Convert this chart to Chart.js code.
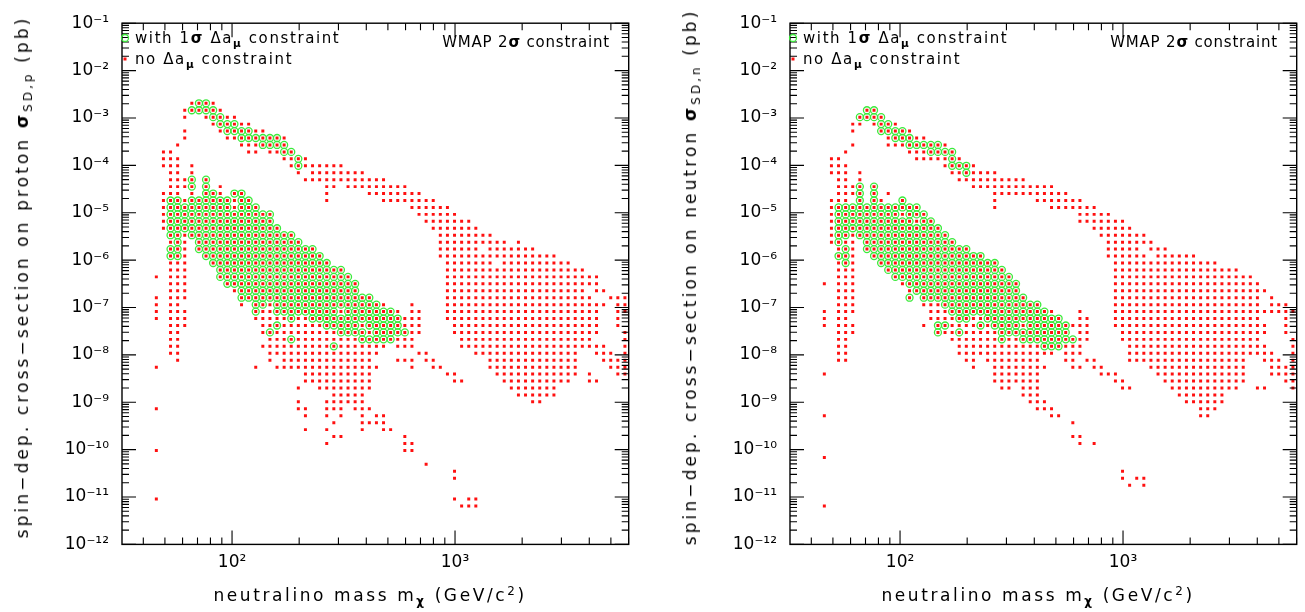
<!DOCTYPE html>
<html>
<head>
<meta charset="utf-8">
<script src="https://cdn.jsdelivr.net/npm/chart.js@4.4.1/dist/chart.umd.min.js"></script>
<style>
  html, body { margin: 0; padding: 0; background: #fff; }
  #page { position: relative; width: 1305px; height: 612px; overflow: hidden; font-family: "DejaVu Sans", sans-serif; color: #000; }
  .panel { position: absolute; top: 0; height: 612px; }
  .txt { position: absolute; white-space: nowrap; }
  .ctr { transform: translate(-50%, -50%); }
  .ytitle { transform: translate(-50%, -50%) rotate(-90deg); font-size: 17px; letter-spacing: 3.1px; }
  .xtitle { font-size: 17px; letter-spacing: 2.6px; }
  .leg { font-size: 15px; letter-spacing: 1.6px; transform: translateY(-50%); }
  .wmap { font-size: 15px; letter-spacing: 0.8px; transform: translate(-100%, -50%); }
  sub { font-size: 70%; vertical-align: -0.35em; line-height: 0; }
  sup { font-size: 70%; vertical-align: 0.5em; line-height: 0; }
  b { font-weight: bold; }
</style>
</head>
<body>
<div id="page">
  <div class="panel" style="left:0; width:652px;"><canvas id="left" width="652" height="612"></canvas></div>
  <div class="panel" style="left:668px; width:637px;"><canvas id="right" width="637" height="612"></canvas></div>

  <div class="txt ytitle" style="left:22px; top:277px;">spin−dep. cross−section on proton <b>σ</b><sub>SD,p</sub> (pb)</div>
  <div class="txt ytitle" style="left:690px; top:277px;">spin−dep. cross−section on neutron <b>σ</b><sub>SD,n</sub> (pb)</div>
  <div class="txt xtitle ctr" style="left:370px; top:595px;">neutralino mass m<sub><b>χ</b></sub> (GeV/c<sup>2</sup>)</div>
  <div class="txt xtitle ctr" style="left:1038px; top:595px;">neutralino mass m<sub><b>χ</b></sub> (GeV/c<sup>2</sup>)</div>

  <div class="txt leg" style="left:135px; top:38px;">with 1<b>σ</b> Δa<sub><b>μ</b></sub> constraint</div>
  <div class="txt leg" style="left:135px; top:59px;">no Δa<sub><b>μ</b></sub> constraint</div>
  <div class="txt wmap" style="left:610px; top:42px;">WMAP 2<b>σ</b> constraint</div>
  <div class="txt leg" style="left:803px; top:38px;">with 1<b>σ</b> Δa<sub><b>μ</b></sub> constraint</div>
  <div class="txt leg" style="left:803px; top:59px;">no Δa<sub><b>μ</b></sub> constraint</div>
  <div class="txt wmap" style="left:1278px; top:42px;">WMAP 2<b>σ</b> constraint</div>
</div>
<script>
// axis ranges and ticks
const X_MIN = 32.1, X_MAX = 6010;
const Y_MIN = 1e-12, Y_MAX = 1e-1;
const X_TICKS = [100, 1000];
const Y_TICKS = [1e-12, 1e-11, 1e-10, 1e-9, 1e-8, 1e-7, 1e-6, 1e-5, 1e-4, 1e-3, 1e-2, 1e-1];

// scan grid (log10 of first bin and bin width)
const LOG_M0 = 1.6605, LOG_M_STEP = 0.03184;
const LOG_S0 = -2.6904, LOG_S_STEP = -0.14654;

// occupied cells, one string per sigma row: xK = no constraint only, oK = also within 1 sigma
const PROTON_ROWS = [
  "x5 o6-7 x8",
  "x4 o5-8 x9",
  "x4 x7 o8-9 x10-11",
  "x8 o9-11 x12-13",
  "x4 x9 o10-13 x14-15",
  "x4 x10-11 o12-17 x18",
  "x3 x12-14 o15-18",
  "x1-2 x13-14 x16-17 o18-19",
  "x1-3 x18-19 o20 x21",
  "x1-3 x5 x19 o20 x21-26",
  "x2-3 x5 x20 x22-29",
  "x2-4 o5 o7 x21-32",
  "x2-4 o5 o7 x9 x24-25 x27-35",
  "x1-3 x5 o7-8 x9 o11-12 x24 x30-37",
  "x1 o2-3 x4 o5-10 x11 o12-13 x24 x32-39",
  "x1 o2-10 x11 o12-14 x36-41",
  "x1 o2-16 x37-42",
  "x1 o2-16 x38-44",
  "x1 o2-17 x39-45",
  "o2-3 x4 o5-19 x40-47",
  "x2 o3 x4 o6-20 x40-49 x51",
  "o2-3 x4 o6-22 x40-45 x47-53",
  "o2-3 x4 o7-23 x40-56",
  "x2-4 o8-24 x41-47 x49-58",
  "x2-4 o9-26 x41-60",
  "x0 x2-4 o9-27 x41-62",
  "x2-4 o10-28 x41-62",
  "x2-4 x11 o12-28 x41-60 x62-63",
  "x0 x2-4 o12-30 x41-61 x64-66",
  "x0 x2-3 x12 o14-15 x16 o17-31 x32 x36 x41-63 x65-66",
  "x0 x2-4 o14 x15-16 o17-25 x26 o27-33 x34 x36-37 x41-62 x65-66",
  "x0 x2-4 x14-18 o19 x20-21 o22-34 x35-37 x41-62 x65",
  "x2-4 x15-16 o17 x18-23 o24-28 x29 o30-34 x35-37 x42-62 x65",
  "x2-3 x15 o16 x17-25 o26-29 x30 o31-35 x36-37 x42-62 x66",
  "x2-3 x16-18 o19 x20-28 o29-33 x34-36 x43-61 x66",
  "x2-3 x15-24 o25 x26-32 x34-36 x43-63 x66",
  "x2-3 x16-31 x37-38 x45-59 x62-64 x66",
  "x3 x16 x18-30 x34-36 x38-39 x47-59 x63-66",
  "x0 x14 x17-31 x36 x39-40 x47-59 x64-66",
  "x21-30 x41-42 x48-59 x61 x65-66",
  "x21-30 x42-43 x49-58 x61-62",
  "x20 x23-30 x50-56",
  "x25-29 x51-56",
  "x20 x24-29 x53-54",
  "x0 x20-21 x24-26 x28-30",
  "x21 x24 x26 x29 x31-32",
  "x25 x29-32",
  "x21 x24 x29 x32-33",
  "x25-26 x35",
  "x24 x35-36",
  "x0 x35-36",
  "",
  "x38",
  "x42",
  "x42",
  "",
  "",
  "x0 x42 x44-45",
  "x43-45"
];

const NEUTRON_ROWS = [
  "",
  "o6-7",
  "o5-8",
  "x4-5 x7 o8-9 x10",
  "x4 o8-11 x12",
  "x9 o10-12 x13-14",
  "x4 x9-11 o12-16 x17",
  "x3 x12-14 o15-18",
  "x1-2 x13-17 o18 x19",
  "x1-3 x17 o18-20 x21",
  "x1-3 x5 x18-19 o20 x21-24",
  "x2-3 x5 x19-28",
  "x2-4 o5 o7 x21-32",
  "x2-4 o5 o7 x9 x24-34",
  "x1-3 o5 o7 x8 o11 x24 x30-36",
  "x1 o2-13 x24 x32-38",
  "x1 o2-10 x11 o12-14 x36-40",
  "x1 o2-12 x13 o14-15 x36-42",
  "x1 o2-16 x38-43",
  "x1 o2-3 x4 o5-17 x39-45",
  "x1 o2 x3-4 o6-18 x40-46",
  "x2 o3 x4 o6-20 x40-44 x46-48",
  "o2-3 x4 o7-22 x40-45 x47-52",
  "x2 o3 x4 o8-24 x41-55",
  "x2-4 o9-25 x41-58",
  "x2-4 o10-26 x41-60",
  "x0 x2-4 x11 o12-27 x41-61",
  "x2-4 x12 o13-27 x41-62",
  "x2-4 o12 o14-28 x41-61 x63",
  "x2-4 x14-16 o17-30 x41-61 x63-65",
  "x0 x2-4 x15-17 o18-31 x32 x36 x41-66",
  "x0 x2-3 x15-18 o19-20 x21-22 o23-33 x36-37 x41-61 x65",
  "x0 x2-4 x14 o16-17 x18-21 o22 x23 o24-27 x28 o29-34 x35-37 x41-62 x65",
  "x2-4 o16 x17-18 o19 x20-24 o25-34 x36-37 x42-62 x65",
  "x2-3 x18-24 o25 x26-27 o28-35 x36-37 x42-61 x66",
  "x2-3 x19-30 o31-33 x34-36 x43-62 x66",
  "x2-3 x19-32 x34-36 x43-63 x66",
  "x2-3 x20-21 x23-30 x34-35 x37-38 x43-59 x62-64 x66",
  "x21 x24-31 x35-36 x38-39 x46-59 x63-66",
  "x0 x24-30 x39-41 x47-59 x63-66",
  "x24-30 x41-42 x48-59 x65-66",
  "x25-26 x28-30 x42-43 x49-58 x61-62 x66",
  "x28-30 x50-56",
  "x29-31 x51-56",
  "x30-32 x53-55",
  "x0 x32-33 x53-54",
  "x35",
  "",
  "x35-36",
  "x36 x38",
  "",
  "x0",
  "",
  "x42",
  "x42 x44-45",
  "x43 x45",
  "",
  "",
  "x0"
];

const RED = '#ff1010';
const GREEN = '#3cea3c';

function cellsFrom(rows) {
  const all = [], ok = [];
  rows.forEach((row, r) => {
    row.split(' ').filter(Boolean).forEach(tok => {
      const kind = tok[0];
      const [a, b] = tok.slice(1).split('-').map(Number);
      for (let k = a; k <= (isNaN(b) ? a : b); k++) {
        const p = { x: Math.pow(10, LOG_M0 + k * LOG_M_STEP), y: Math.pow(10, LOG_S0 + r * LOG_S_STEP) };
        all.push(p);
        if (kind === 'o') ok.push(p);
      }
    });
  });
  return { all, ok };
}

const SUP = { '-': '⁻', '0': '⁰', '1': '¹', '2': '²', '3': '³', '4': '⁴', '5': '⁵', '6': '⁶', '7': '⁷', '8': '⁸', '9': '⁹' };
function powLabel(v) {
  const e = String(Math.round(Math.log10(v)));
  return '10' + e.split('').map(c => SUP[c]).join('');
}

// frame, inside ticks on all four sides, legend markers
const framePlugin = {
  id: 'frame',
  afterDraw(chart) {
    const { ctx, chartArea: a, scales } = chart;
    ctx.save();
    ctx.strokeStyle = '#000';
    ctx.lineWidth = 1.4;
    ctx.strokeRect(a.left, a.top, a.right - a.left, a.bottom - a.top);
    ctx.lineWidth = 1.1;
    ctx.beginPath();
    for (let e = -12; e <= -1; e++) {
      for (let m = 1; m <= 9; m++) {
        const v = m * Math.pow(10, e);
        if (v > Y_MAX * 1.0001) continue;
        const py = scales.y.getPixelForValue(v);
        const len = m === 1 ? 14 : 7;
        ctx.moveTo(a.left, py); ctx.lineTo(a.left + len, py);
        ctx.moveTo(a.right, py); ctx.lineTo(a.right - len, py);
      }
    }
    for (let e = 1; e <= 3; e++) {
      for (let m = 1; m <= 9; m++) {
        const v = m * Math.pow(10, e);
        if (v < X_MIN || v > X_MAX) continue;
        const px = scales.x.getPixelForValue(v);
        const len = m === 1 ? 14 : 7;
        ctx.moveTo(px, a.bottom); ctx.lineTo(px, a.bottom - len);
        ctx.moveTo(px, a.top); ctx.lineTo(px, a.top + len);
      }
    }
    ctx.stroke();
    // legend symbols
    const lx = a.left + 3;
    ctx.strokeStyle = GREEN;
    ctx.lineWidth = 1.3;
    ctx.beginPath();
    ctx.arc(lx, 38, 3.5, 0, Math.PI * 2);
    ctx.stroke();
    ctx.fillStyle = RED;
    ctx.fillRect(lx - 1.5, 59 - 1.5, 3, 3);
    ctx.restore();
  }
};

function makeChart(id, rows, padRight) {
  const cells = cellsFrom(rows);
  return new Chart(document.getElementById(id), {
    type: 'scatter',
    data: {
      datasets: [
        { label: 'no constraint', data: cells.all, order: 0, pointStyle: 'rect', pointRadius: 2.1,
          backgroundColor: RED, borderWidth: 0 },
        { label: 'with 1 sigma', data: cells.ok, order: 1, pointStyle: 'circle', pointRadius: 3.5,
          backgroundColor: 'rgba(0,0,0,0)', borderColor: GREEN, borderWidth: 1.3 }
      ]
    },
    options: {
      responsive: false,
      animation: false,
      layout: { padding: { top: 11.4, right: padRight, left: 0, bottom: 0 } },
      plugins: { legend: { display: false }, tooltip: { enabled: false } },
      scales: {
        x: {
          type: 'logarithmic', min: X_MIN, max: X_MAX,
          grid: { display: false, drawTicks: false }, border: { display: false },
          afterBuildTicks: s => { s.ticks = X_TICKS.map(v => ({ value: v })); },
          afterFit: s => { s.height = 612 - 544.4; },
          ticks: { autoSkip: false, maxRotation: 0, padding: 8, color: '#000',
                   font: { family: 'DejaVu Sans', size: 17 }, callback: v => powLabel(v) }
        },
        y: {
          type: 'logarithmic', min: Y_MIN, max: Y_MAX,
          grid: { display: false, drawTicks: false }, border: { display: false },
          afterBuildTicks: s => { s.ticks = Y_TICKS.map(v => ({ value: v })); },
          afterFit: s => { s.width = 122; },
          ticks: { autoSkip: false, padding: 13, color: '#000',
                   font: { family: 'DejaVu Sans', size: 17 }, callback: v => powLabel(v) }
        }
      }
    },
    plugins: [framePlugin]
  });
}

makeChart('left', PROTON_ROWS, 652 - 628.7);
makeChart('right', NEUTRON_ROWS, 637 - (1296.7 - 668));
</script>
</body>
</html>
